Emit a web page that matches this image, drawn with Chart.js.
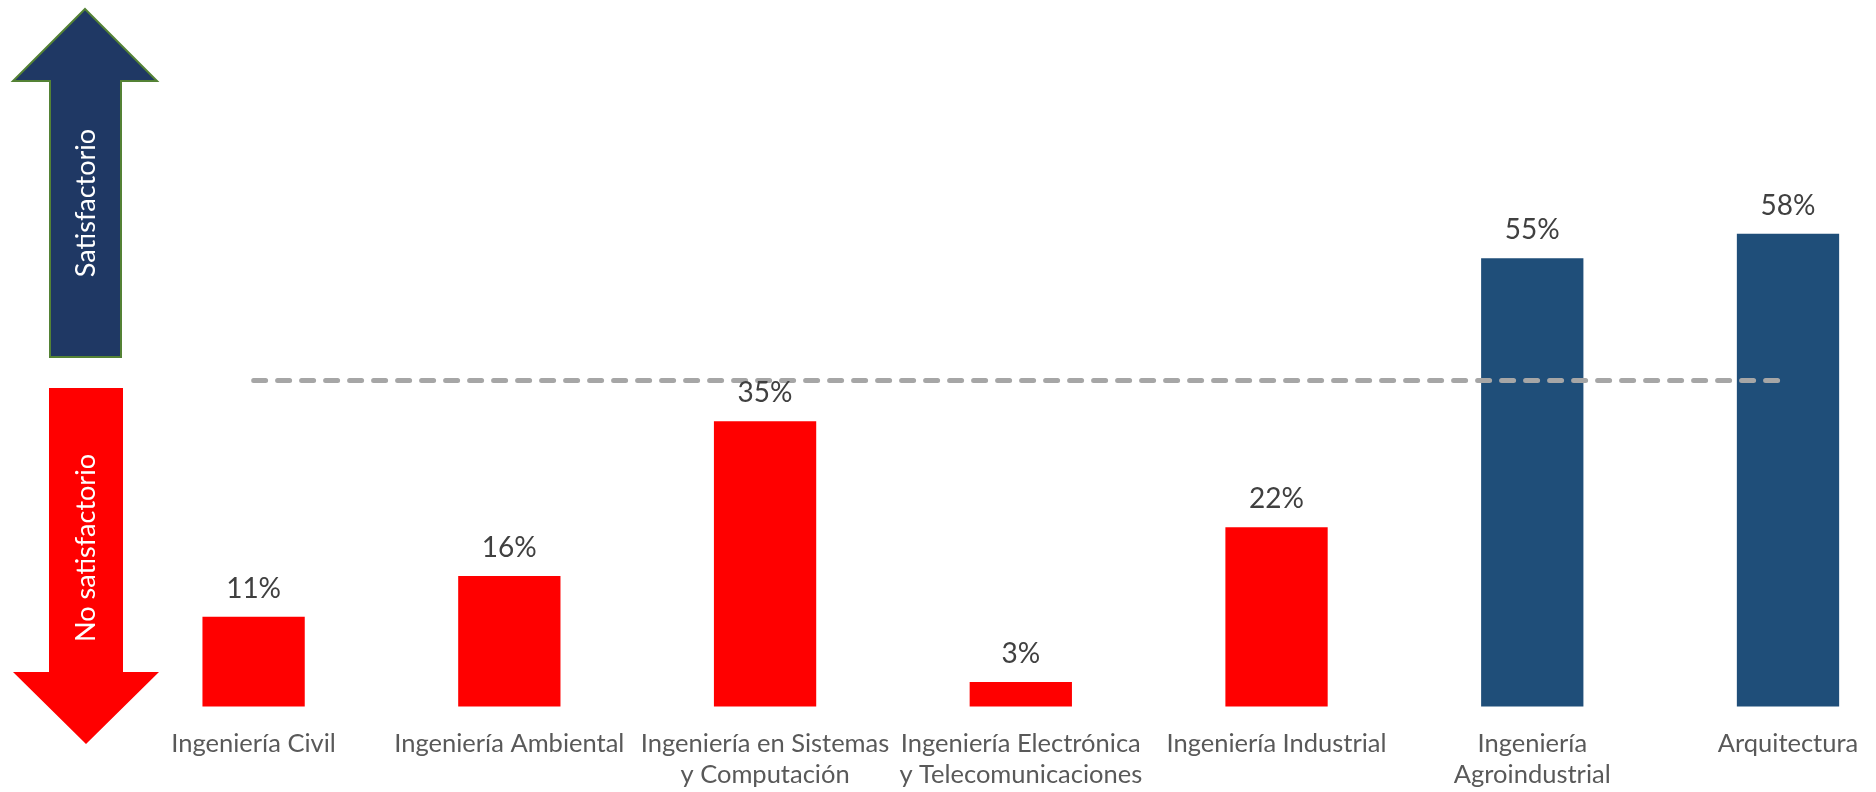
<!DOCTYPE html>
<html>
<head>
<meta charset="utf-8">
<script src="https://cdn.jsdelivr.net/npm/chart.js@4.4.0/dist/chart.umd.min.js"></script>
<style>
  body { margin: 0; background: #fff; }
  #wrap { width: 1876px; height: 792px; position: relative; }
</style>
</head>
<body>
<div id="wrap"><canvas id="myChart"></canvas></div>
<script>
// datos
var carreras = [
  'Ingeniería Civil',
  'Ingeniería Ambiental',
  ['Ingeniería en Sistemas', 'y Computación'],
  ['Ingeniería Electrónica', 'y Telecomunicaciones'],
  'Ingeniería Industrial',
  ['Ingeniería', 'Agroindustrial'],
  'Arquitectura'
];
var porcentajes = [11, 16, 35, 3, 22, 55, 58];
var umbral = 40;
var lineaUmbral = [40, 40, 40, 40, 40, 40, 40];

var rojo = '#FF0000';
var azul = '#1F4E79';
var coloresBarras = porcentajes.map(function(v){ return v >= umbral ? azul : rojo; });

// etiquetas de valor sobre cada barra
var etiquetas = {
  id: 'etiquetas',
  afterDatasetsDraw: function(chart){
    var ctx = chart.ctx;
    var meta = chart.getDatasetMeta(1);
    ctx.save();
    ctx.font = '28px Lato';
    ctx.fillStyle = '#404040';
    ctx.textAlign = 'center';
    ctx.textBaseline = 'alphabetic';
    meta.data.forEach(function(bar, i){
      ctx.fillText(porcentajes[i] + '%', bar.x, bar.y - 19);
    });
    ctx.restore();
  }
};

// flechas de la izquierda
var flechas = {
  id: 'flechas',
  afterDraw: function(chart){
    var ctx = chart.ctx;
    ctx.save();
    ctx.beginPath();
    ctx.moveTo(85, 9);
    ctx.lineTo(157, 81);
    ctx.lineTo(121, 81);
    ctx.lineTo(121, 357);
    ctx.lineTo(50, 357);
    ctx.lineTo(50, 81);
    ctx.lineTo(13, 81);
    ctx.closePath();
    ctx.fillStyle = '#1F3864';
    ctx.fill();
    ctx.lineWidth = 2;
    ctx.strokeStyle = '#548235';
    ctx.stroke();

    ctx.beginPath();
    ctx.moveTo(49, 388);
    ctx.lineTo(123, 388);
    ctx.lineTo(123, 672);
    ctx.lineTo(159, 672);
    ctx.lineTo(86, 744);
    ctx.lineTo(13, 672);
    ctx.lineTo(49, 672);
    ctx.closePath();
    ctx.fillStyle = '#FF0000';
    ctx.fill();

    ctx.fillStyle = '#FFFFFF';
    ctx.font = '27px Lato';
    ctx.textAlign = 'center';
    ctx.textBaseline = 'middle';
    ctx.save();
    ctx.translate(86, 203);
    ctx.rotate(-Math.PI / 2);
    ctx.fillText('Satisfactorio', 0, 0);
    ctx.restore();
    ctx.save();
    ctx.translate(86, 548);
    ctx.rotate(-Math.PI / 2);
    ctx.fillText('No satisfactorio', 0, 0);
    ctx.restore();
    ctx.restore();
  }
};

Chart.defaults.font.family = 'Lato';

var ctx = document.getElementById('myChart').getContext('2d');
var chart = new Chart(ctx, {
  type: 'bar',
  data: {
    labels: carreras,
    datasets: [{
      type: 'line',
      data: lineaUmbral,
      borderColor: '#A6A6A6',
      borderWidth: 5,
      borderDash: [12, 12],
      borderCapStyle: 'round',
      pointRadius: 0,
      fill: false,
      order: 0
    }, {
      type: 'bar',
      data: porcentajes,
      backgroundColor: coloresBarras,
      categoryPercentage: 1,
      barPercentage: 0.4,
      clip: false,
      order: 1
    }]
  },
  options: {
    responsive: true,
    maintainAspectRatio: false,
    animation: false,
    layout: { padding: { left: 253.6, right: 88, top: 54.5, bottom: 0 } },
    plugins: {
      legend: { display: false },
      tooltip: { enabled: false }
    },
    scales: {
      x: {
        offset: false,
        grid: { display: false, drawTicks: false },
        border: { display: false },
        ticks: {
          color: '#595959',
          font: { size: 25.5, lineHeight: 1.22 },
          padding: 22,
          maxRotation: 0,
          autoSkip: false
        },
        afterFit: function(scale){
          scale.height = 85.5;
          scale.paddingLeft = 0;
          scale.paddingRight = 0;
        }
      },
      y: { display: false, min: 0, max: 80 }
    }
  },
  plugins: [etiquetas, flechas]
});
</script>
</body>
</html>
